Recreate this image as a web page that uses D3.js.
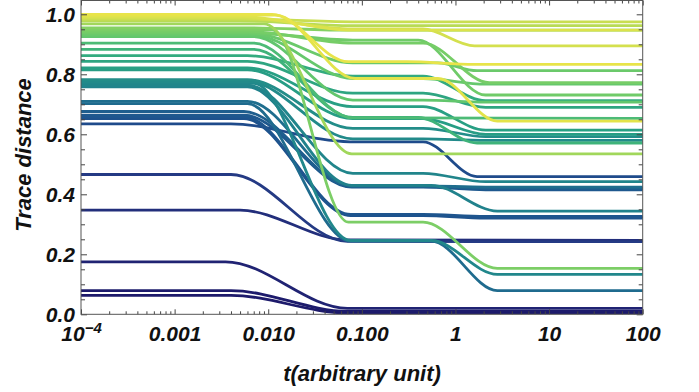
<!DOCTYPE html>
<html>
<head>
<meta charset="utf-8">
<script src="https://cdn.jsdelivr.net/npm/d3@7"></script>
<style>
  html, body { margin: 0; padding: 0; background: #fff; }
  svg { display: block; }
  text { font-family: "Liberation Sans", Arial, sans-serif; font-weight: bold; font-style: italic; fill: #111; }
</style>
</head>
<body>
<svg id="chart" width="699" height="392"></svg>
<script>
// ---------------- data ----------------
// each curve: initial level, level after first drop, final level after second drop
// and the times (arbitrary unit) where each drop starts and ends
const startValues = [0.984, 0.978, 0.993, 0.988, 1.000, 0.997, 0.968, 0.955, 0.948, 0.943,
                     0.938, 0.934, 0.930, 0.926, 0.904, 0.883, 0.862, 0.843, 0.821, 0.815,
                     0.782, 0.776, 0.770, 0.764, 0.758, 0.710, 0.702, 0.676, 0.664, 0.658,
                     0.652, 0.635, 0.466, 0.347, 0.175, 0.079, 0.063];
const midValues   = [0.975, 0.962, 0.947, 0.951, 0.842, 0.786, 0.535, 0.947, 0.307, 0.904,
                     0.914, 0.838, 0.786, 0.714, 0.655, 0.656, 0.794, 0.737, 0.692, 0.652,
                     0.620, 0.585, 0.246, 0.470, 0.430, 0.428, 0.244, 0.426, 0.424, 0.333,
                     0.329, 0.575, 0.243, 0.248, 0.020, 0.010, 0.004];
const endValues   = [0.975, 0.962, 0.947, 0.895, 0.833, 0.644, 0.535, 0.947, 0.153, 0.772,
                     0.731, 0.812, 0.767, 0.707, 0.653, 0.571, 0.712, 0.690, 0.614, 0.600,
                     0.592, 0.580, 0.133, 0.442, 0.344, 0.424, 0.079, 0.420, 0.415, 0.326,
                     0.321, 0.459, 0.242, 0.246, 0.020, 0.010, 0.004];
const drop1From   = [0.005, 0.005, 0.005, 0.005, 0.011, 0.012, 0.009, 0.005, 0.011, 0.006,
                     0.006, 0.007, 0.007, 0.007, 0.007, 0.007, 0.006, 0.006, 0.006, 0.006,
                     0.006, 0.006, 0.007, 0.006, 0.006, 0.006, 0.006, 0.0055, 0.0055, 0.0055,
                     0.0055, 0.004, 0.004, 0.005, 0.0035, 0.004, 0.004];
const drop1To     = [0.080, 0.080, 0.080, 0.080, 0.072, 0.085, 0.078, 0.080, 0.072, 0.080,
                     0.080, 0.080, 0.080, 0.080, 0.080, 0.080, 0.080, 0.080, 0.080, 0.080,
                     0.080, 0.080, 0.076, 0.080, 0.078, 0.078, 0.076, 0.078, 0.078, 0.076,
                     0.076, 0.075, 0.070, 0.070, 0.070, 0.070, 0.070];
const drop2From   = [null, null, null, 0.45, 0.3, 0.65, null, null, 0.45, 0.45,
                     0.4, 0.65, 0.45, 0.45, null, 0.4, 0.45, 0.45, 0.45, 0.45,
                     0.45, 0.45, 0.55, 0.45, 0.55, 0.45, 0.55, 0.45, 0.45, 0.45,
                     0.45, 0.45, null, null, null, null, null];
const drop2To     = [null, null, null, 1.6, 1.6, 2.8, null, null, 2.8, 2.3,
                     2.1, 1.7, 2.1, 2.1, null, 1.7, 2.1, 2.1, 2.1, 2.1,
                     2.1, 2.1, 2.8, 2.1, 2.8, 2.1, 2.8, 2.1, 2.1, 2.1,
                     2.1, 1.7, null, null, null, null, null];

const xTickValues = [1e-4, 1e-3, 1e-2, 1e-1, 1, 10, 100];
const xTickLabels = ["10", "0.001", "0.010", "0.100", "1", "10", "100"];
const yTickValues = [0, 0.2, 0.4, 0.6, 0.8, 1.0];
const yTickLabels = ["0.0", "0.2", "0.4", "0.6", "0.8", "1.0"];

(function () {
// ---------------- layout ----------------
const svg = d3.select("#chart");
const pL = 81, pR = 642.7, pB = 314.3, pT = 0.5;

const x = d3.scaleLog().domain([1e-4, 100]).range([pL, pR]);
const y = d3.scaleLinear().domain([0, 1]).range([pB, pB - 300]);

const color = d3.scaleLinear()
  .domain([0.06, 0.18, 0.35, 0.47, 0.635, 0.66, 0.70, 0.77, 0.82, 0.86, 0.90, 0.93, 0.955, 0.975, 0.988, 1.0])
  .range(["#1d1a6b", "#202373", "#222e7b", "#243a84", "#1f4b8b", "#1e568e", "#1f6a8e", "#21878b",
          "#289f84", "#32aa7f", "#49b977", "#66c86c", "#84d163", "#b0da57", "#d4e04e", "#e8e449"])
  .interpolate(d3.interpolateRgb)
  .clamp(true);

svg.append("defs").append("clipPath").attr("id", "plotclip")
  .append("rect").attr("x", pL).attr("y", pT).attr("width", pR - pL).attr("height", pB - pT);

// ---------------- curves ----------------
const curves = startValues.map((s, i) => {
  const pts = [[1e-4, s], [drop1From[i], s], [drop1To[i], midValues[i]]];
  if (drop2From[i] != null) {
    pts.push([drop2From[i], midValues[i]], [drop2To[i], endValues[i]]);
  }
  pts.push([100, endValues[i]]);
  return { s, pts };
});
curves.sort((a, b) => a.s - b.s);

const line = d3.line().x(d => x(d[0])).y(d => y(d[1])).curve(d3.curveMonotoneX);

svg.append("g").attr("clip-path", "url(#plotclip)")
  .selectAll("path").data(curves).join("path")
  .attr("d", d => line(d.pts))
  .attr("fill", "none")
  .attr("stroke", d => color(d.s))
  .attr("stroke-width", 2.8)
  .attr("stroke-linecap", "round");

// ---------------- axes ----------------
const minorX = [];
for (let e = -4; e < 2; e++) for (let k = 2; k <= 9; k++) minorX.push(k * Math.pow(10, e));
const minorY = d3.range(0, 21).map(i => i * 0.05).filter(v => Math.abs(v / 0.2 - Math.round(v / 0.2)) > 1e-6);

function styleAxis(g) {
  g.selectAll(".domain").remove();
  g.selectAll("line").attr("stroke", "#444").attr("stroke-width", 1);
  g.selectAll("text").attr("font-size", 21).attr("fill", "#111");
}

// bottom
const gb = svg.append("g").attr("transform", `translate(0,${pB})`)
  .call(d3.axisBottom(x).tickValues(xTickValues).tickSize(-5).tickPadding(12)
    .tickFormat((d, i) => xTickLabels[i]));
styleAxis(gb);
gb.append("g").call(d3.axisBottom(x).tickValues(minorX).tickSize(-3).tickFormat(""))
  .call(styleAxis);
gb.selectAll(".tick text").filter(d => d === 1e-4)
  .append("tspan").text("\u22124").attr("font-size", 15).attr("dy", "-0.55em");

// top
const gt = svg.append("g").attr("transform", `translate(0,${pT})`)
  .call(d3.axisTop(x).tickValues(xTickValues).tickSize(-5).tickFormat(""));
styleAxis(gt);
gt.append("g").call(d3.axisTop(x).tickValues(minorX).tickSize(-3).tickFormat("")).call(styleAxis);

// left
const gl = svg.append("g").attr("transform", `translate(${pL},0)`)
  .call(d3.axisLeft(y).tickValues(yTickValues).tickSize(-6).tickPadding(6)
    .tickFormat((d, i) => yTickLabels[i]));
styleAxis(gl);
gl.append("g").call(d3.axisLeft(y).tickValues(minorY).tickSize(-4).tickFormat("")).call(styleAxis);

// right
const gr = svg.append("g").attr("transform", `translate(${pR},0)`)
  .call(d3.axisRight(y).tickValues(yTickValues).tickSize(-6).tickFormat(""));
styleAxis(gr);
gr.append("g").call(d3.axisRight(y).tickValues(minorY).tickSize(-4).tickFormat("")).call(styleAxis);

// frame
svg.append("rect").attr("x", pL).attr("y", pT).attr("width", pR - pL).attr("height", pB - pT)
  .attr("fill", "none").attr("stroke", "#555").attr("stroke-width", 1);

// axis titles
svg.append("text").attr("x", 362).attr("y", 381)
  .attr("text-anchor", "middle").attr("font-size", 22).text("t(arbitrary unit)");
svg.append("text").attr("transform", `translate(31,155) rotate(-90)`)
  .attr("text-anchor", "middle").attr("font-size", 22).text("Trace distance");
})();
</script>
</body>
</html>
